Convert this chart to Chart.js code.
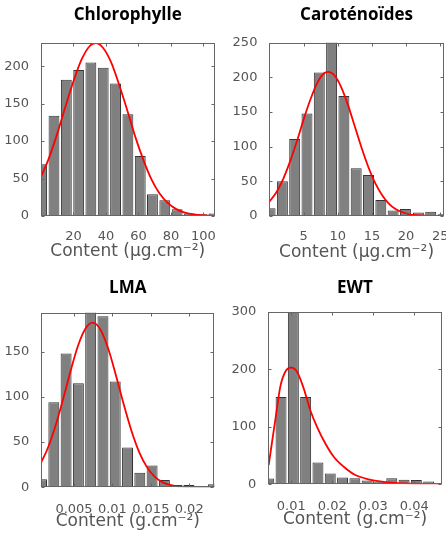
<!DOCTYPE html>
<html>
<head>
<meta charset="utf-8">
<script src="https://cdn.jsdelivr.net/npm/chart.js@4.4.0/dist/chart.umd.min.js"></script>
<style>
    body { margin: 0; background: #fff; width: 446px; height: 533px; overflow: hidden; position: relative; }
    canvas { position: absolute; }
</style>
</head>
<body>
<canvas id="chloroChart" width="223" height="266" style="left:0;top:0"></canvas>
<canvas id="caroChart" width="223" height="266" style="left:223px;top:0"></canvas>
<canvas id="lmaChart" width="223" height="267" style="left:0;top:266px"></canvas>
<canvas id="ewtChart" width="223" height="267" style="left:223px;top:266px"></canvas>
<script>
// Chlorophylle
const chloroBins = [0.4, 8.0, 15.6, 23.2, 30.7, 38.3, 45.9, 53.5, 61.1, 68.6, 76.2, 83.8, 91.4, 99.0, 106.5];
const chloroCounts = [69, 134, 182, 195, 205, 198, 177, 136, 80, 29, 21, 9, 3.5, 2.5, 3.5];
const chloroFitX = [0, 5, 10, 15, 20, 25, 30, 33.7, 38, 43, 48, 53, 58, 63, 68, 73, 78, 83, 88, 95, 107];
const chloroFitY = [52, 78, 110, 146, 180, 209, 227, 231, 225, 206, 176, 142, 106, 75, 49, 30, 17.5, 9.5, 4.8, 1.7, 0.2];
const chloroXTicks = [20, 40, 60, 80, 100];
const chloroYTicks = [0, 50, 100, 150, 200];

// Caroténoïdes
const caroBins = [0.1, 1.9, 3.7, 5.5, 7.3, 9.1, 10.9, 12.7, 14.5, 16.3, 18.1, 19.9, 21.8, 23.6, 25.4];
const caroCounts = [11, 50, 111, 148, 207, 262, 173, 69, 59, 23, 8, 10, 5, 6, 2.5];
const caroFitX = [0, 1, 2, 3, 4, 5, 6, 7, 8, 8.6, 9.5, 10.5, 11.5, 12.5, 13.5, 14.5, 15.5, 16.5, 17.5, 18.5, 20, 22, 25.5];
const caroFitY = [20.6, 34, 53, 78, 107, 139, 168, 192, 206, 208, 203, 186, 160, 129, 98, 70, 47, 30, 17.5, 9.7, 3.6, 0.8, 0.05];
const caroXTicks = [5, 10, 15, 20, 25];
const caroYTicks = [0, 50, 100, 150, 200, 250];

// LMA
const lmaBins = [0.00077, 0.00237, 0.00397, 0.00557, 0.00717, 0.00877, 0.01037, 0.01197, 0.01357, 0.01517, 0.01677, 0.01837, 0.01997, 0.02157, 0.02317];
const lmaCounts = [9, 94, 148, 115, 200, 189, 117, 44, 16, 24, 8, 2.6, 2.6, 1, 3.3];
const lmaFitX = [0.00074, 0.0015, 0.0025, 0.0035, 0.0045, 0.0055, 0.0065, 0.00743, 0.0085, 0.0095, 0.0105, 0.0115, 0.0125, 0.0135, 0.0145, 0.0155, 0.0165, 0.0175, 0.019, 0.0233];
const lmaFitY = [27.8, 41.5, 65.6, 95, 127, 156, 175.5, 182, 173.5, 152, 122.5, 91, 62, 38.7, 22.3, 11.8, 5.7, 2.6, 0.7, 0.3];
const lmaXTicks = [0.005, 0.01, 0.015, 0.02];
const lmaYTicks = [0, 50, 100, 150];

// EWT
const ewtBins = [0.0045, 0.0075, 0.0105, 0.0135, 0.0165, 0.0195, 0.0225, 0.0255, 0.0285, 0.0315, 0.0345, 0.0375, 0.0405, 0.0435, 0.0465];
const ewtCounts = [10, 152, 320, 152, 38, 19, 12, 10.5, 6.5, 3.5, 10.5, 8, 7.5, 5, 0.5];
const ewtFitX = [0.00448, 0.0061, 0.00732, 0.00854, 0.00993, 0.01139, 0.01302, 0.01463, 0.01627, 0.0183, 0.02034, 0.02278, 0.02561, 0.02888, 0.034, 0.04, 0.0467];
const ewtFitY = [33.5, 112, 170, 196, 203, 196, 167, 129, 100, 71, 48, 30.6, 16.2, 8.7, 3, 1, 0.5];
const ewtXTicks = [0.01, 0.02, 0.03, 0.04];
const ewtYTicks = [0, 100, 200, 300];

Chart.defaults.font.family = 'DejaVu Sans';
Chart.defaults.color = '#555';

const FRAME = '#666';

// box around the plot area + small ticks pointing inwards on all 4 sides
const framePlugin = {
    id: 'frame',
    afterDatasetsDraw(chart) {
        const { ctx, chartArea: a, scales } = chart;
        const l = Math.round(a.left) + 0.5, r = Math.round(a.right) - 0.5;
        const t = Math.round(a.top) + 0.5, b = Math.round(a.bottom) - 0.5;
        ctx.save();
        ctx.strokeStyle = FRAME;
        ctx.lineWidth = 1;
        ctx.strokeRect(l, t, r - l, b - t);
        ctx.beginPath();
        scales.x.ticks.forEach(tk => {
            const px = Math.round(scales.x.getPixelForValue(tk.value)) + 0.5;
            ctx.moveTo(px, b); ctx.lineTo(px, b - 3);
            ctx.moveTo(px, t); ctx.lineTo(px, t + 3);
        });
        scales.y.ticks.forEach(tk => {
            const py = Math.round(scales.y.getPixelForValue(tk.value)) + 0.5;
            ctx.moveTo(l, py); ctx.lineTo(l + 3, py);
            ctx.moveTo(r, py); ctx.lineTo(r - 3, py);
        });
        ctx.stroke();
        ctx.restore();
    }
};

function makeHist(id, p) {
    const canvas = document.getElementById(id);
    return new Chart(canvas, {
        type: 'bar',
        data: {
            datasets: [{
                type: 'line',
                data: p.fitX.map((x, i) => ({ x, y: p.fitY[i] })),
                borderColor: '#ff0000',
                borderWidth: 1.8,
                pointRadius: 0,
                cubicInterpolationMode: 'monotone',
                order: 1
            }, {
                type: 'bar',
                data: p.bins.map((x, i) => ({ x, y: p.counts[i] })),
                backgroundColor: '#808080',
                borderColor: '#333',
                borderWidth: 1,
                borderSkipped: false,
                barPercentage: 0.89,
                categoryPercentage: 1,
                order: 2
            }]
        },
        options: {
            responsive: false,
            animation: false,
            layout: { padding: { left: 0, top: 0, bottom: 0, right: canvas.width - p.area.r } },
            plugins: {
                legend: { display: false },
                tooltip: { enabled: false },
                title: {
                    display: true,
                    text: p.title,
                    fullSize: false,
                    color: '#000',
                    font: { family: 'Open Sans', size: 17, weight: 'bold' },
                    padding: { top: p.titleTop, bottom: p.area.t - p.titleTop - 20.4 }
                }
            },
            scales: {
                x: {
                    type: 'linear',
                    offset: false,
                    min: p.xMin,
                    max: p.xMax,
                    grid: { display: false },
                    border: { display: false },
                    afterBuildTicks: s => { s.ticks = p.xTicks.map(v => ({ value: v })); },
                    afterFit: s => {
                        s.height = canvas.height - p.area.b;
                        s.paddingLeft = s.paddingRight = 0;
                    },
                    ticks: {
                        autoSkip: false, maxRotation: 0, minRotation: 0,
                        padding: p.xPad,
                        font: { size: 13 },
                        callback: v => String(v)
                    },
                    title: {
                        display: true,
                        text: p.xLabel,
                        font: { size: 17 },
                        padding: { top: 0, bottom: p.labelBottom }
                    }
                },
                y: {
                    min: 0,
                    max: p.yMax,
                    grid: { display: false },
                    border: { display: false },
                    afterBuildTicks: s => { s.ticks = p.yTicks.map(v => ({ value: v })); },
                    afterFit: s => {
                        s.width = p.area.l;
                        s.paddingTop = s.paddingBottom = 0;
                    },
                    ticks: { padding: 4, font: { size: 13 } }
                }
            }
        },
        plugins: [framePlugin]
    });
}

makeHist('chloroChart', {
    title: 'Chlorophylle', xLabel: 'Content (µg.cm⁻²)',
    bins: chloroBins, counts: chloroCounts, fitX: chloroFitX, fitY: chloroFitY,
    xTicks: chloroXTicks, yTicks: chloroYTicks,
    xMin: 0, xMax: 106.8, yMax: 231,
    area: { l: 41, t: 43, r: 214.5, b: 216 }, titleTop: 4.8, xPad: 5, labelBottom: 4.2
});

makeHist('caroChart', {
    title: 'Caroténoïdes', xLabel: 'Content (µg.cm⁻²)',
    bins: caroBins, counts: caroCounts, fitX: caroFitX, fitY: caroFitY,
    xTicks: caroXTicks, yTicks: caroYTicks,
    xMin: 0, xMax: 25.5, yMax: 250,
    area: { l: 46.4, t: 42.7, r: 220.7, b: 216 }, titleTop: 4.8, xPad: 5, labelBottom: 3.4
});

makeHist('lmaChart', {
    title: 'LMA', xLabel: 'Content (g.cm⁻²)',
    bins: lmaBins, counts: lmaCounts, fitX: lmaFitX, fitY: lmaFitY,
    xTicks: lmaXTicks, yTicks: lmaYTicks,
    xMin: 0.00074, xMax: 0.02327, yMax: 193,
    area: { l: 41.3, t: 46.7, r: 214.3, b: 221.3 }, titleTop: 12.3, xPad: 7, labelBottom: 1.4
});

makeHist('ewtChart', {
    title: 'EWT', xLabel: 'Content (g.cm⁻²)',
    bins: ewtBins, counts: ewtCounts, fitX: ewtFitX, fitY: ewtFitY,
    xTicks: ewtXTicks, yTicks: ewtYTicks,
    xMin: 0.00439, xMax: 0.04668, yMax: 300,
    area: { l: 45.3, t: 46, r: 218.7, b: 218.3 }, titleTop: 12.3, xPad: 6.5, labelBottom: 2.9
});
</script>
</body>
</html>
